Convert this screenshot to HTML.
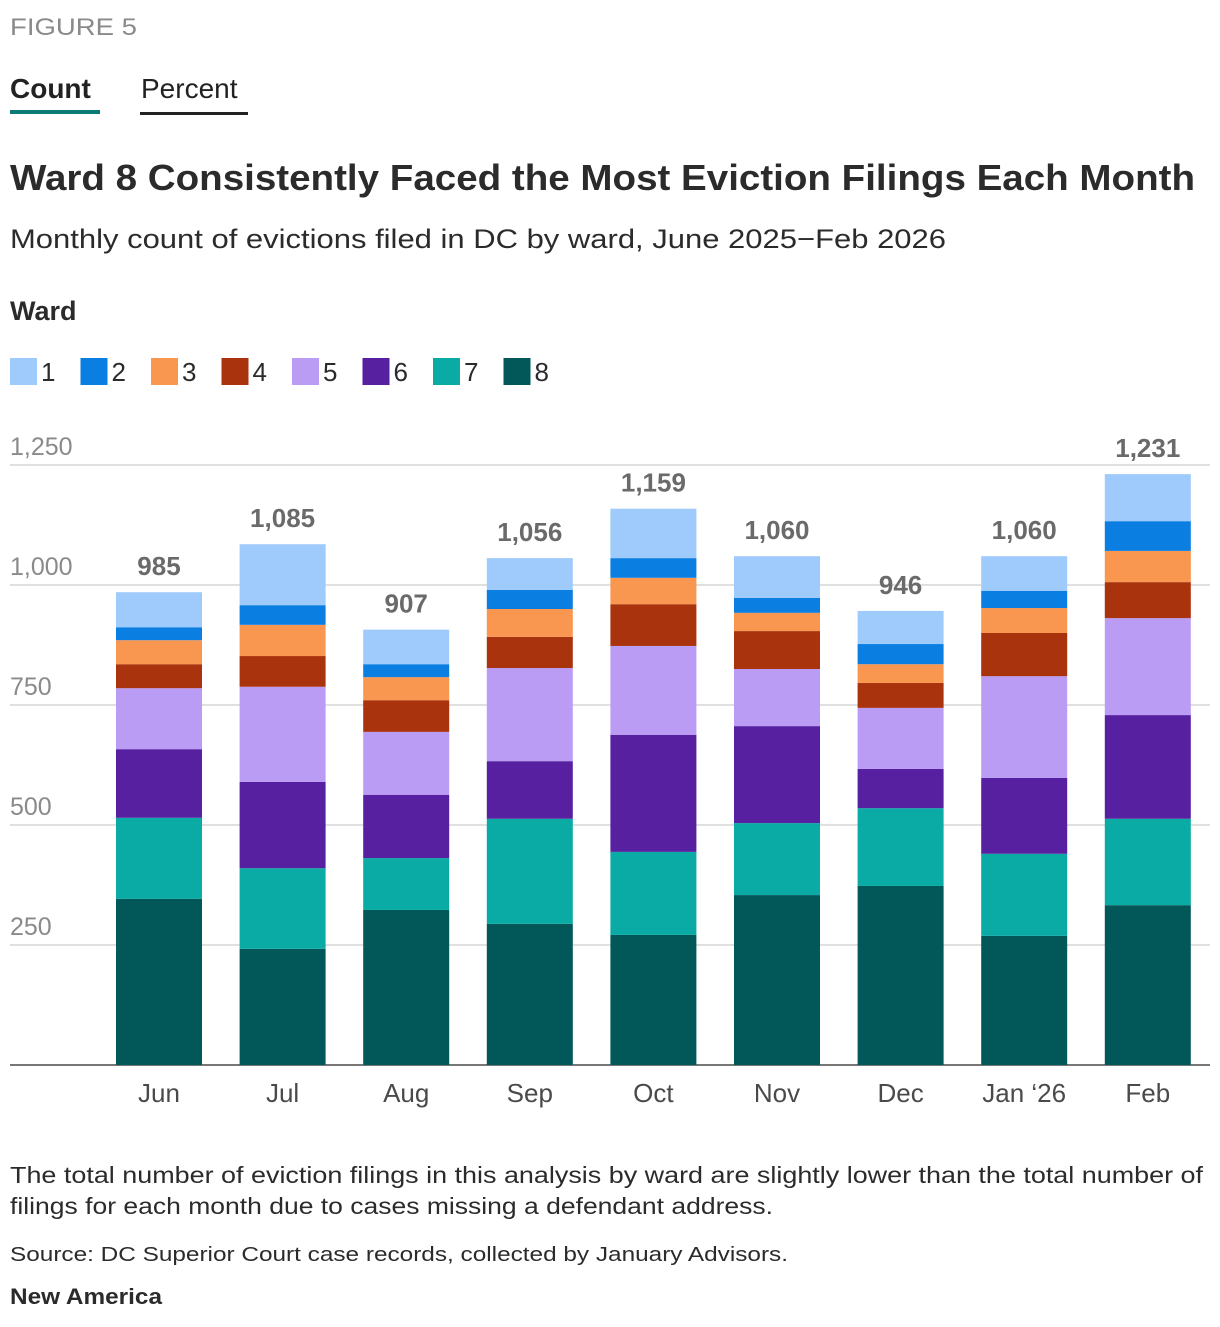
<!DOCTYPE html>
<html><head><meta charset="utf-8"><style>
body{margin:0;background:#fff;font-family:"Liberation Sans",sans-serif}
svg text{font-family:"Liberation Sans",sans-serif}
</style></head><body>
<svg id="c" width="1220" height="1322" xmlns="http://www.w3.org/2000/svg">
<text x="10" y="35" font-size="24" fill="#8a8a8a" textLength="127" lengthAdjust="spacingAndGlyphs">FIGURE 5</text>
<g><text x="10" y="98" font-size="28" font-weight="bold" fill="#222">Count</text><rect x="10" y="110" width="90" height="4" fill="#0b7a74"/></g>
<g><text x="141" y="98" font-size="28" fill="#222">Percent</text><rect x="140" y="112" width="108" height="3" fill="#222"/></g>
<text x="10" y="190" font-size="36" font-weight="bold" fill="#2b2b2b" textLength="1185" lengthAdjust="spacingAndGlyphs">Ward 8 Consistently Faced the Most Eviction Filings Each Month</text>
<text x="10" y="248" font-size="27" fill="#2b2b2b" textLength="936" lengthAdjust="spacingAndGlyphs">Monthly count of evictions filed in DC by ward, June 2025−Feb 2026</text>
<text x="10" y="320" font-size="27" font-weight="bold" fill="#2b2b2b">Ward</text>
<g id="legend"></g><g id="grid"></g><g id="bars"></g>
<text x="10" y="1183" font-size="23" fill="#2b2b2b" textLength="1193" lengthAdjust="spacingAndGlyphs">The total number of eviction filings in this analysis by ward are slightly lower than the total number of</text>
<text x="10" y="1214" font-size="23" fill="#2b2b2b" textLength="763" lengthAdjust="spacingAndGlyphs">filings for each month due to cases missing a defendant address.</text>
<text x="10" y="1261" font-size="20" fill="#2b2b2b" textLength="778" lengthAdjust="spacingAndGlyphs">Source: DC Superior Court case records, collected by January Advisors.</text>
<text x="10" y="1304" font-size="22" font-weight="bold" fill="#2b2b2b" textLength="152" lengthAdjust="spacingAndGlyphs">New America</text>
</svg>
<script>
const months=["Jun","Jul","Aug","Sep","Oct","Nov","Dec","Jan ‘26","Feb"];
const wards=["1","2","3","4","5","6","7","8"];
const colors=["#9ecbfb","#0b7ee2","#f99650","#a9330c","#bb9cf5","#5620a0","#0aaba5","#025758"];
const w8=[346,242,323,294,271,354,373,269,333];
const w7=[169,168,108,219,173,150,162,171,180];
const w6=[143,180,132,120,244,202,82,158,216];
const w5=[127,198,131,194,185,119,127,212,202];
const w4=[50,64,66,65,87,79,52,90,75];
const w3=[50,65,48,58,55,38,39,52,65];
const w2=[27,41,27,40,41,31,42,36,62];
const w1=[73,127,72,66,103,87,69,72,98];
const totals=[985,1085,907,1056,1159,1060,946,1060,1231];
const ticks=[250,500,750,1000,1250];
const tickLabels=["250","500","750","1,000","1,250"];
const NS="http://www.w3.org/2000/svg";
const y=v=>1065-v*0.48;
const x=i=>159+i*123.6;
function mk(t,a,p){const e=document.createElementNS(NS,t);for(const k in a)e.setAttribute(k,a[k]);p.appendChild(e);return e;}
const lg=document.getElementById('legend');
wards.forEach((w,i)=>{const lx=10+i*70.5;
 const g=mk('g',{},lg);
 
 
 mk('rect',{x:lx,y:358,width:27,height:27,fill:colors[i]},g);
 const t=mk('text',{x:lx+31,y:381,'font-size':26,fill:'#2b2b2b'},g);t.textContent=w;});
const gr=document.getElementById('grid');
ticks.forEach((v,i)=>{const l=mk('line',{x1:10,x2:1210,y1:y(v),y2:y(v),stroke:'#d6d6d6','stroke-width':1.5},gr);
 
 
 const t=mk('text',{x:10,y:y(v)-10,'font-size':25,fill:'#8a8a8a'},gr);t.textContent=tickLabels[i];
 
 });
const ax=mk('line',{x1:10,x2:1210,y1:1065,y2:1065,stroke:'#777','stroke-width':2},gr);


const bg=document.getElementById('bars');
const series=[w8,w7,w6,w5,w4,w3,w2,w1];
months.forEach((m,i)=>{let cum=0;
 series.forEach((s,k)=>{const ci=7-k;const r=mk('rect',{x:x(i)-43,y:y(cum+s[i]),width:86,height:s[i]*0.48,fill:colors[ci]},bg);
  
  
  cum+=s[i];});
 const tl=mk('text',{x:x(i),y:y(totals[i])-17,'font-size':26,'font-weight':'bold',fill:'#6a6a6a','text-anchor':'middle'},bg);tl.textContent=totals[i].toLocaleString('en-US');
 
 
 const ml=mk('text',{x:x(i),y:1102,'font-size':26,fill:'#4a4a4a','text-anchor':'middle'},bg);ml.textContent=m;
 
 });
</script>
</body></html>
